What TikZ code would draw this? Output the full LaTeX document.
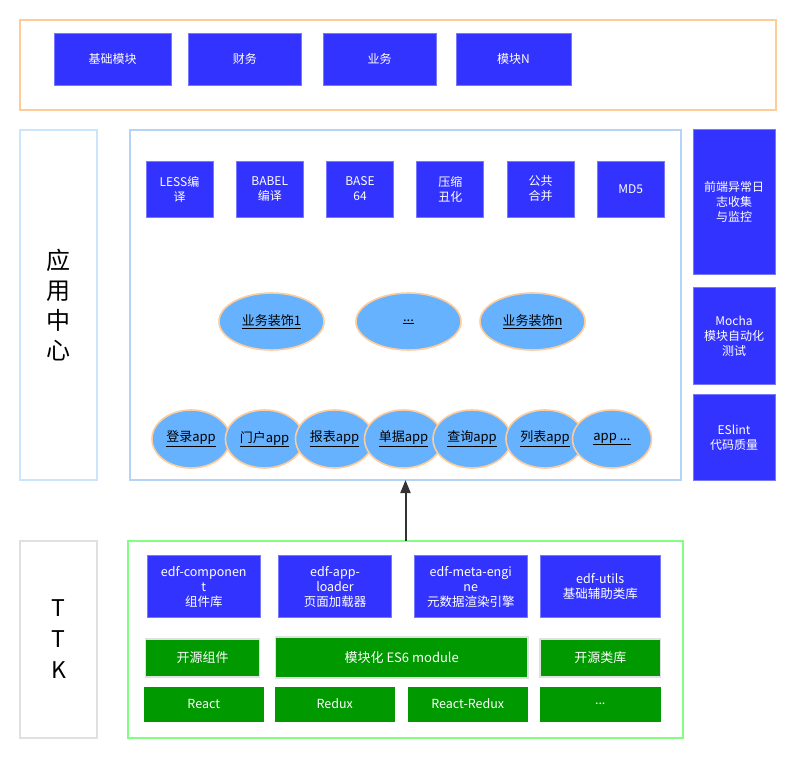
\documentclass[tikz,border=0pt]{standalone}
\usepackage{fontspec}
\setmainfont{Noto Sans CJK SC}
\usetikzlibrary{shapes.geometric,arrows.meta}
\definecolor{cblue}{HTML}{3333FF}
\definecolor{cblueb}{HTML}{7777FF}
\definecolor{cgreen}{HTML}{009900}
\definecolor{cgreenb}{HTML}{80FF80}
\definecolor{corange}{HTML}{FFCC99}
\definecolor{cell}{HTML}{66B2FF}
\definecolor{cleft}{HTML}{CCE5FF}
\definecolor{cmain}{HTML}{B3D4F5}
\definecolor{cgray}{HTML}{E0E0E0}
\definecolor{carrow}{HTML}{333333}
\begin{document}
\begin{tikzpicture}[x=1pt,y=-1pt,
  every node/.style={inner sep=0pt, outer sep=0pt, align=center},
  frame/.style={rectangle, line width=1.6pt, fill=white},
  bluebox/.style={rectangle, fill=cblue, draw=cblueb, line width=0.8pt, text=white, font=\fontsize{12}{15}\selectfont},
  greenbox/.style={rectangle, fill=cgreen, draw=cgray, line width=1.8pt, text=white, font=\fontsize{13}{15}\selectfont},
  greenflat/.style={rectangle, fill=cgreen, draw=cgreen, line width=0.5pt, text=white, font=\fontsize{12.5}{15}\selectfont},
  ellip/.style={ellipse, fill=cell, draw=corange, line width=1.6pt, font=\fontsize{13}{15}\selectfont},
  bigtext/.style={font=\fontsize{24}{30}\selectfont}
]
\useasboundingbox (0,0) rectangle (798,756);

% top layer
\node[frame, draw=corange, minimum width=756pt, minimum height=90pt] (top) at (398,65) {};
\node[bluebox, minimum width=117pt, minimum height=52pt] (jc) at (112.5,59) {基础模块};
\node[bluebox, minimum width=112.5pt, minimum height=52pt] (cw) at (244.75,59) {财务};
\node[bluebox, minimum width=113pt, minimum height=52pt] (yw) at (379.5,59) {业务};
\node[bluebox, minimum width=115pt, minimum height=52pt] (mk) at (513.5,59) {模块N};

% app center
\node[frame, draw=cleft, minimum width=77pt, minimum height=350pt, bigtext] (appleft) at (58.5,305) {应\\用\\中\\心};
\node[frame, draw=cmain, minimum width=551pt, minimum height=350pt] (appmain) at (405.5,305) {};

\node[bluebox, minimum width=67pt, minimum height=56pt] (less) at (179.5,189) {LESS编\\译};
\node[bluebox, minimum width=67pt, minimum height=56pt] (babel) at (269.75,189) {BABEL\\编译};
\node[bluebox, minimum width=67pt, minimum height=56pt] (base) at (360,189) {BASE\\64};
\node[bluebox, minimum width=67pt, minimum height=56pt] (ys) at (450.25,189) {压缩\\丑化};
\node[bluebox, minimum width=67pt, minimum height=56pt] (gg) at (540.5,189) {公共\\合并};
\node[bluebox, minimum width=67pt, minimum height=56pt] (md) at (630.75,189) {MD5};

\node[ellip, minimum width=105pt, minimum height=57pt] (d1) at (271.5,321.5) {\underline{业务装饰1}};
\node[ellip, minimum width=105pt, minimum height=57pt] (d2) at (408.5,321.5) {\underline{...}};
\node[ellip, minimum width=105pt, minimum height=57pt] (dn) at (532.5,321.5) {\underline{业务装饰n}};

\node[ellip, minimum width=78pt, minimum height=58pt] (a1) at (191,439) {\underline{登录app}};
\node[ellip, minimum width=78pt, minimum height=58pt] (a2) at (264.5,439) {\underline{门户app}};
\node[ellip, minimum width=78pt, minimum height=58pt] (a3) at (334.5,439) {\underline{报表app}};
\node[ellip, minimum width=78pt, minimum height=58pt] (a4) at (403.5,439) {\underline{单据app}};
\node[ellip, minimum width=78pt, minimum height=58pt] (a5) at (472,439) {\underline{查询app}};
\node[ellip, minimum width=78pt, minimum height=58pt] (a6) at (545,439) {\underline{列表app}};
\node[ellip, minimum width=79pt, minimum height=58pt] (a7) at (612,439) {\underline{app ...}};

% right column
\node[bluebox, minimum width=82pt, minimum height=145.5pt] (log) at (734,201.75) {前端异常日\\志收集\\与监控};
\node[bluebox, minimum width=82pt, minimum height=97pt] (mocha) at (734,336) {Mocha\\模块自动化\\测试};
\node[bluebox, minimum width=82pt, minimum height=85.5pt] (eslint) at (734,437.25) {ESlint\\代码质量};

% TTK
\node[frame, draw=cgray, minimum width=77pt, minimum height=197pt, font=\fontsize{23}{31}\selectfont] (ttkleft) at (58.5,639.5) {T\\T\\K};
\node[frame, draw=cgreenb, line width=1.4pt, minimum width=555pt, minimum height=197pt] (ttkmain) at (405.5,639.5) {};

\node[bluebox, minimum width=113.5pt, minimum height=62pt, font=\fontsize{12.5}{15}\selectfont] (comp) at (203.75,586.5) {edf-componen\\t\\组件库};
\node[bluebox, minimum width=113pt, minimum height=62pt, font=\fontsize{12.5}{15}\selectfont] (loader) at (335,586.5) {edf-app-\\loader\\页面加载器};
\node[bluebox, minimum width=113.5pt, minimum height=62pt, font=\fontsize{12.5}{15}\selectfont] (meta) at (470.75,586.5) {edf-meta-engi\\ne\\元数据渲染引擎};
\node[bluebox, minimum width=119.5pt, minimum height=62pt, font=\fontsize{12.5}{15}\selectfont] (utils) at (600.25,586.5) {edf-utils\\基础辅助类库};

\node[greenbox, minimum width=114pt, minimum height=38pt] (oss) at (202.5,658) {开源组件};
\node[greenbox, minimum width=252.5pt, minimum height=41pt] (es6) at (401.75,657.5) {模块化 ES6 module};
\node[greenbox, minimum width=120.5pt, minimum height=38pt] (osl) at (600.25,658) {开源类库};

\node[greenflat, minimum width=119.5pt, minimum height=34pt] (react) at (203.75,704) {React};
\node[greenflat, minimum width=119.5pt, minimum height=34pt] (redux) at (334.75,704) {Redux};
\node[greenflat, minimum width=119.5pt, minimum height=34pt] (rr) at (467.75,704) {React-Redux};
\node[greenflat, minimum width=119.5pt, minimum height=34pt] (etc) at (600.25,704) {...};

% arrow
\draw[carrow, line width=2pt, -{Triangle[length=13pt,width=10pt]}] (ttkmain.north) -- (appmain.south);
\end{tikzpicture}
\end{document}
